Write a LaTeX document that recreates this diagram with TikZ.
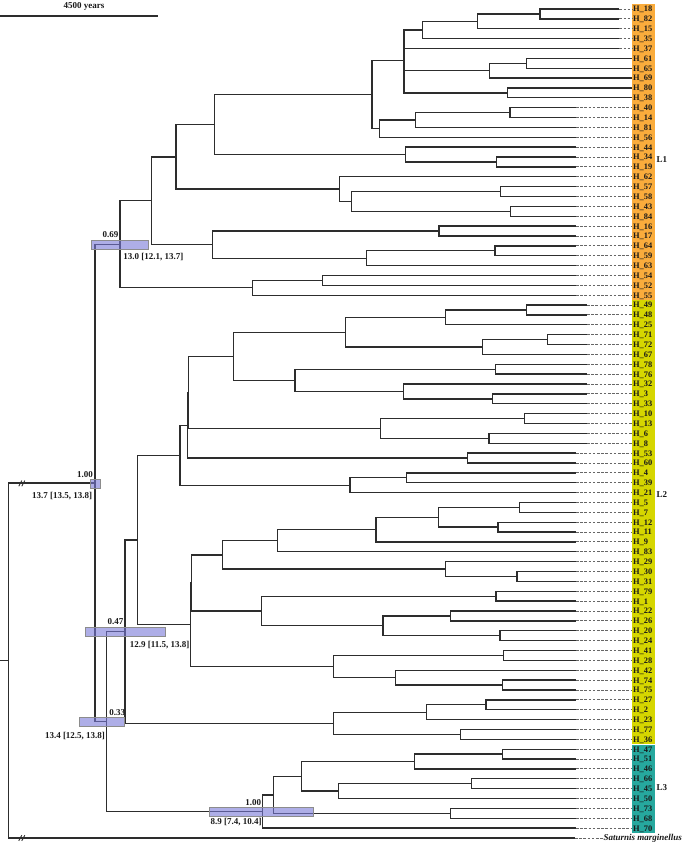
\documentclass[tikz,border=0pt]{standalone}
\usepackage{fontspec}
\setmainfont{Liberation Serif}
\usetikzlibrary{calc}
\definecolor{treec}{RGB}{45,45,45}
\definecolor{cOr}{RGB}{250,172,60}
\definecolor{cYe}{RGB}{214,214,0}
\definecolor{cTe}{RGB}{38,168,158}
\definecolor{hpdc}{RGB}{120,120,215}
\newcommand\tnode[4]{%
  \path ($(#3)!0.5!(#4)$) coordinate (#1m);
  \coordinate (#1) at (#2,0 |- #1m);
  \draw[branch] (#1) |- (#3);
  \draw[branch] (#1) |- (#4);
}
\begin{document}
\begin{tikzpicture}[x=1pt,y=-1pt,
  branch/.style={draw=treec,line width=1.35pt},
  dashline/.style={draw=black!60,line width=0.9pt,dash pattern=on 2.6pt off 1.6pt},
  leaflab/.style={anchor=west,inner xsep=1pt,inner ysep=0pt,text height=5.8pt,text depth=0pt,font=\fontsize{8.4}{9}\selectfont\bfseries,text=black!90},
  ann/.style={inner sep=0pt,text height=6.2pt,text depth=0pt,font=\fontsize{9}{10}\selectfont\bfseries,text=black!90},
  hpd/.style={fill=hpdc,fill opacity=0.6,draw=black!45,line width=0.6pt},
  brk/.style={draw=treec,line width=0.9pt}]
\useasboundingbox (0,0) rectangle (685,844);
% clade colour boxes
\fill[cOr] (632,{9-4.6}) rectangle (654.5,{9+29*9.869+4.6});
\fill[cYe] (632,{9+30*9.869-4.6}) rectangle (654.5,{9+74*9.869+4.6});
\fill[cTe] (632,{9+75*9.869-4.6}) rectangle (654.5,{9+83*9.869+4.6});
% leaves
\foreach \nm/\tx [count=\i] in {18/619.3, 82/619.3, 15/619.3, 35/619.3, 37/619.3, 61/632, 65/632, 69/632, 80/632, 38/632, 40/576, 14/576, 81/576, 56/576, 44/576, 34/576, 19/576, 62/576, 57/576, 58/576, 43/576, 84/576, 16/576, 17/576, 64/576, 59/576, 63/576, 54/576, 52/576, 55/576, 49/587, 48/587, 25/587, 71/587, 72/587, 67/587, 78/587, 76/587, 32/587, 3/587, 33/587, 10/587, 13/587, 6/587, 8/587, 53/576, 60/576, 4/576, 39/576, 21/576, 5/576, 7/576, 12/576, 11/576, 9/576, 83/576, 29/576, 30/576, 31/576, 79/576, 1/576, 22/576, 26/576, 20/576, 24/576, 41/576, 28/576, 42/576, 74/576, 75/576, 27/576, 2/576, 23/576, 77/576, 36/576, 47/576, 51/576, 46/576, 66/576, 45/576, 50/576, 73/576, 68/576, 70/576}
{
  \coordinate (h\nm) at (\tx,{9+(\i-1)*9.869});
  \node[leaflab] (lab\nm) at (632,{9+(\i-1)*9.869}) {H\_\nm};
  \draw[dashline] (h\nm) -- (lab\nm.west);
}
\coordinate (sat) at (575,{9+84*9.869});
\node[leaflab,font=\fontsize{9}{10}\selectfont\bfseries\itshape] (satlab) at (602.5,{9+84*9.869}) {Saturnis marginellus};
\draw[dashline] (sat) -- (satlab.west);
% clade labels
\node[ann,anchor=west] (L1) at (656.5,159) {L1};
\node[ann,anchor=west] (L2) at (656.5,494) {L2};
\node[ann,anchor=west] (L3) at (656.5,787) {L3};
% L1
\tnode{a1}{540}{h18}{h82}
\tnode{a2}{477.7}{a1}{h15}
\tnode{a3}{422.3}{a2}{h35}
\tnode{a4}{526.7}{h61}{h65}
\tnode{a5}{489.7}{a4}{h69}
\tnode{a6}{507.3}{h80}{h38}
\tnode{p1}{404}{a3}{h37}
\tnode{p2}{404}{a5}{a6}
\tnode{a7}{404}{p1}{p2}
\tnode{a8}{510}{h40}{h14}
\tnode{a9}{415.3}{a8}{h81}
\tnode{a10}{379.3}{a9}{h56}
\tnode{a11}{372}{a7}{a10}
\tnode{a12}{496.7}{h34}{h19}
\tnode{a13}{405.7}{h44}{a12}
\tnode{a14}{214.3}{a11}{a13}
\tnode{a15}{500.7}{h57}{h58}
\tnode{a16}{510.7}{h43}{h84}
\tnode{a17}{351.7}{a15}{a16}
\tnode{a18}{339.5}{h62}{a17}
\tnode{a19}{176}{a14}{a18}
\tnode{a20}{439}{h16}{h17}
\tnode{a21}{495}{h64}{h59}
\tnode{a22}{366.7}{a21}{h63}
\tnode{a23}{212.3}{a20}{a22}
\tnode{a24}{151.7}{a19}{a23}
\tnode{a25}{322.3}{h54}{h52}
\tnode{a26}{252.3}{a25}{h55}
\tnode{Lone}{120}{a24}{a26}
% L2
\tnode{b1}{526.7}{h49}{h48}
\tnode{b2}{445.7}{b1}{h25}
\tnode{b3}{547.7}{h71}{h72}
\tnode{b4}{482.7}{b3}{h67}
\tnode{b5}{345.7}{b2}{b4}
\tnode{b6}{495.7}{h78}{h76}
\tnode{b7}{492.3}{h3}{h33}
\tnode{b8}{403.3}{h32}{b7}
\tnode{b9}{295}{b6}{b8}
\tnode{b10}{233.3}{b5}{b9}
\tnode{b11}{524.3}{h10}{h13}
\tnode{b12}{489}{h6}{h8}
\tnode{b13}{380.3}{b11}{b12}
\tnode{b14}{467.3}{h53}{h60}
\tnode{b15}{188.2}{b10}{b13}
\tnode{b16}{187.7}{b15}{b14}
\tnode{b17}{406.7}{h4}{h39}
\tnode{b18}{350}{b17}{h21}
\tnode{b19}{180}{b16}{b18}
\tnode{b20}{519.3}{h5}{h7}
\tnode{b21}{498}{h12}{h11}
\tnode{b22}{438.3}{b20}{b21}
\tnode{b23}{376}{b22}{h9}
\tnode{b24}{277.7}{b23}{h83}
\tnode{b25}{517}{h30}{h31}
\tnode{b26}{445.3}{h29}{b25}
\tnode{b27}{222.3}{b24}{b26}
\tnode{b28}{496}{h79}{h1}
\tnode{b29}{450.7}{h22}{h26}
\tnode{b30}{500}{h20}{h24}
\tnode{b31}{383}{b29}{b30}
\tnode{b32}{261.3}{b28}{b31}
\tnode{b33}{191.2}{b27}{b32}
\tnode{b34}{503.7}{h41}{h28}
\tnode{b35}{502.7}{h74}{h75}
\tnode{b36}{395.7}{h42}{b35}
\tnode{b37}{333.3}{b34}{b36}
\tnode{b38}{190.3}{b33}{b37}
\tnode{b39}{137.3}{b19}{b38}
\tnode{b40}{486}{h27}{h2}
\tnode{b41}{426.7}{b40}{h23}
\tnode{b42}{460.3}{h77}{h36}
\tnode{b43}{333.3}{b41}{b42}
\tnode{b44}{125}{b39}{b43}
% L3
\tnode{c1}{502.7}{h47}{h51}
\tnode{c2}{414.7}{c1}{h46}
\tnode{c3}{471.7}{h66}{h45}
\tnode{c4}{338.3}{c3}{h50}
\tnode{c5}{301.7}{c2}{c4}
\tnode{c6}{450.3}{h73}{h68}
\tnode{c7}{273.3}{c5}{c6}
\tnode{c8}{262.7}{c7}{h70}
% deep nodes
\tnode{d1}{106.7}{b44}{c8}
\tnode{rootA}{95}{Lone}{d1}
\tnode{root}{8.3}{rootA}{sat}
\coordinate (rstub) at (0,0 |- root);
\draw[branch] (rstub) -- (root);
% axis breaks
\draw[brk] (18.8,486.2) -- (21.8,480.6);
\draw[brk] (21.8,486.2) -- (24.8,480.6);
\draw[brk] (18.8,840.8) -- (21.8,835.2);
\draw[brk] (21.8,840.8) -- (24.8,835.2);
% HPD bars
\draw[hpd] (91.7,240) rectangle (148.3,249.3);
\draw[hpd] (90,479) rectangle (100,488);
\draw[hpd] (85.7,627.3) rectangle (165.7,636.7);
\draw[hpd] (79,717) rectangle (124,726.7);
\draw[hpd] (209.3,807.3) rectangle (313.3,816.7);
% annotations
\node[ann] (s1) at (110.5,234.3) {0.69};
\node[ann] (t1) at (153.3,256.7) {13.0 [12.1, 13.7]};
\node[ann] (s2) at (85,474) {1.00};
\node[ann] (t2) at (62,495) {13.7 [13.5, 13.8]};
\node[ann] (s3) at (115.5,621.7) {0.47};
\node[ann] (t3) at (159.7,644.3) {12.9 [11.5, 13.8]};
\node[ann] (s4) at (117.2,712.3) {0.33};
\node[ann] (t4) at (75,735) {13.4 [12.5, 13.8]};
\node[ann] (s5) at (253.3,802.3) {1.00};
\node[ann] (t5) at (236.2,821.7) {8.9 [7.4, 10.4]};
% scale bar
\coordinate (sbA) at (0,16);
\coordinate (sbB) at (158,16);
\draw[branch] (sbA) -- (sbB);
\node[ann] (sbl) at (84,5.5) {4500 years};
\end{tikzpicture}
\end{document}
